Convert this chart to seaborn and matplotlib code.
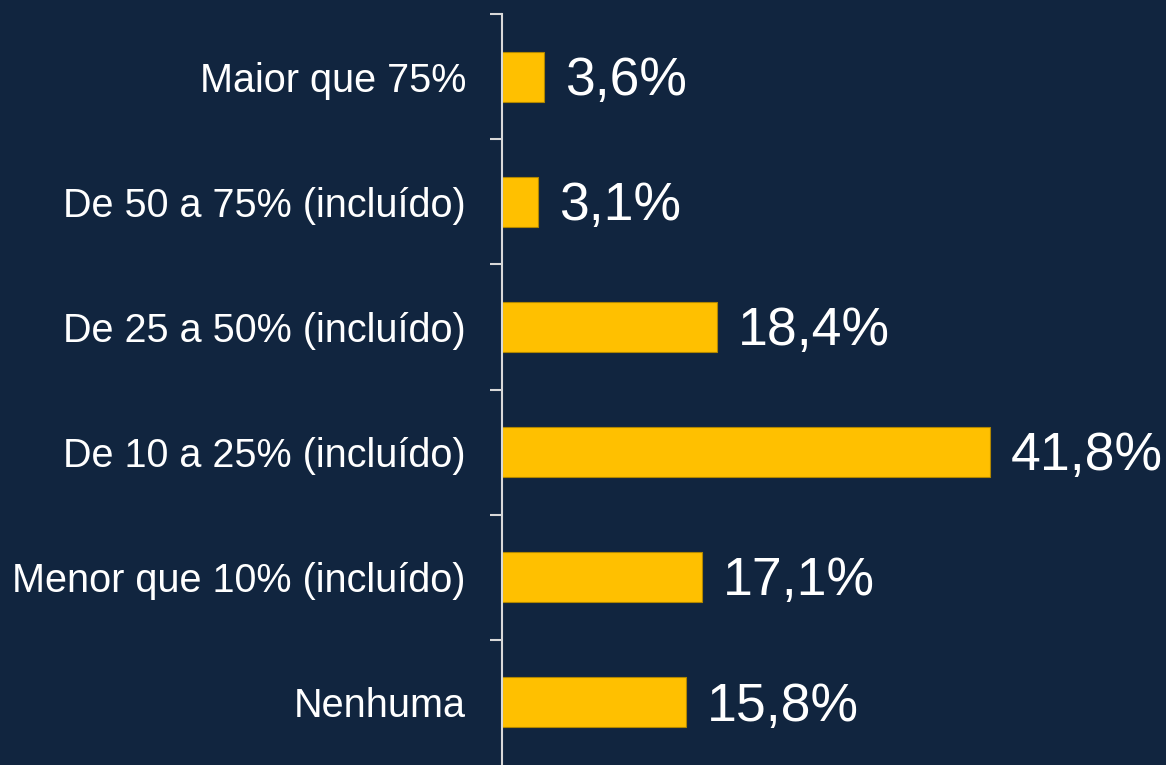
import pandas as pd
import seaborn as sns
import matplotlib.pyplot as plt

categorias = ["Maior que 75%", "De 50 a 75% (incluído)", "De 25 a 50% (incluído)",
              "De 10 a 25% (incluído)", "Menor que 10% (incluído)", "Nenhuma"]
valores = [3.6, 3.1, 18.4, 41.8, 17.1, 15.8]
rotulos = ["3,6%", "3,1%", "18,4%", "41,8%", "17,1%", "15,8%"]

fundo = "#11253F"
amarelo = "#FFC000"

sns.set_theme(style="white")
plt.rcParams["font.family"] = ["Liberation Sans", "DejaVu Sans"]

df = pd.DataFrame({"cat": categorias, "val": valores})

fig = plt.figure(figsize=(11.66, 7.65), dpi=100, facecolor=fundo)
ax = fig.add_axes([502 / 1166, 0, 1 - 502 / 1166, 1 - 14 / 765])
ax.set_facecolor(fundo)

sns.barplot(data=df, x="val", y="cat", orient="h", color=amarelo, width=0.4,
            edgecolor="#B08600", linewidth=0.8, saturation=1, ax=ax)

for i, (v, r) in enumerate(zip(valores, rotulos)):
    ax.annotate(r, (v, i), xytext=(15, -3), textcoords="offset points",
                va="center", ha="left", color="white", fontsize=38.5)

ax.set_xlim(0, 664 / 11.67)
ax.set_ylim(5.5, -0.5)
ax.set_xlabel("")
ax.set_ylabel("")
ax.set_xticks([])

# ticks at category boundaries, labels centered
ax.set_yticks([i - 0.5 for i in range(6)], minor=False)
ax.set_yticklabels([])
ax.set_yticks(range(6), minor=True)
ax.set_yticklabels(categorias, minor=True)
ax.tick_params(axis="y", which="major", length=9, width=1.5, color="#D9D9D9", left=True)
ax.tick_params(axis="y", which="minor", length=0, pad=26, labelsize=28.5, labelcolor="white")

for s in ["top", "right", "bottom"]:
    ax.spines[s].set_visible(False)
ax.spines["left"].set_color("#D9D9D9")
ax.spines["left"].set_linewidth(1.5)

fig.savefig("out.png", facecolor=fundo)
